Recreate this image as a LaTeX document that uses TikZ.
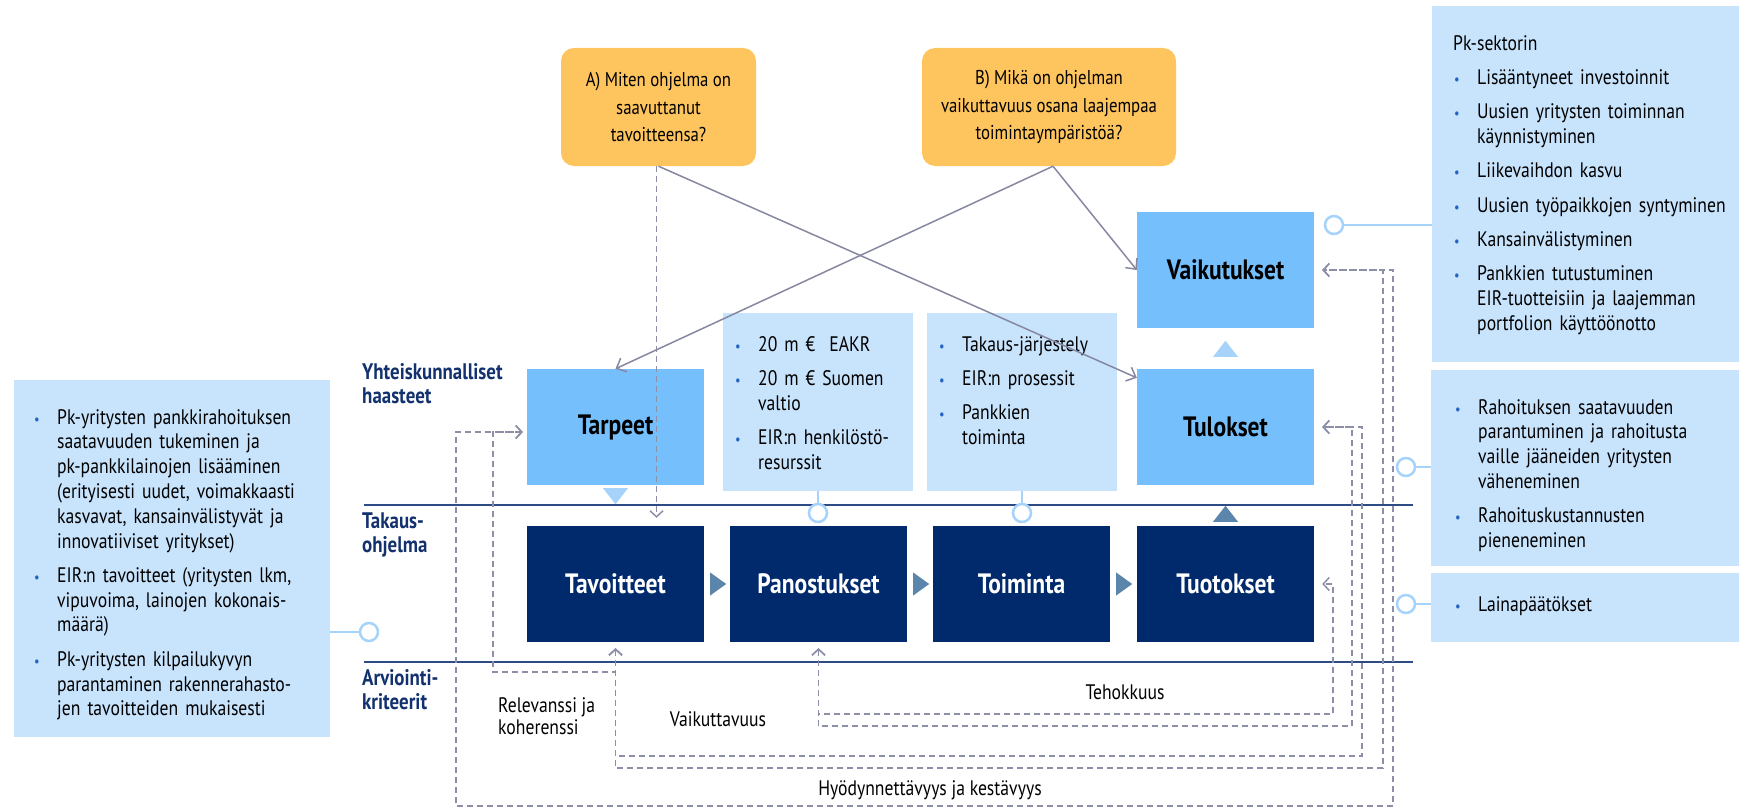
\documentclass[tikz,border=0pt]{standalone}
\usepackage{fontspec}
\setmainfont{PT Sans}[FakeStretch=0.84]
\usepackage{graphicx}
\usetikzlibrary{arrows.meta}

\definecolor{infoblue}{HTML}{C8E3FC}
\definecolor{midblue}{HTML}{74BFFC}
\definecolor{darkblue}{HTML}{002A6B}
\definecolor{qorange}{HTML}{FEC55F}
\definecolor{navytext}{HTML}{12316E}
\definecolor{rulenavy}{HTML}{2D4B84}
\definecolor{dashgray}{HTML}{8D8FA9}
\definecolor{ringblue}{HTML}{A6D3FC}
\definecolor{dotblue}{HTML}{2463C4}
\definecolor{trilight}{HTML}{A7D3FA}
\definecolor{tridark}{HTML}{5B85AA}

\newlength{\itmind}\setlength{\itmind}{24pt}
\newcommand{\itm}[1]{{\let\\\newline\noindent\hangindent=\itmind\hangafter=1\makebox[\itmind][l]{\hspace{1pt}\textcolor{dotblue}{\scalebox{0.7}{\textbullet}}}#1\par}}

\begin{document}
\begin{tikzpicture}[x=1pt,y=-1pt,
    >={Straight Barb[length=6pt,width=13pt]},
    box/.style={minimum width=177pt,minimum height=116pt,inner sep=0pt,font=\fontsize{28}{32}\selectfont\bfseries},
    needbox/.style={box,fill=midblue},
    prgbox/.style={box,fill=darkblue,text=white},
    info/.style={fill=infoblue,inner sep=0pt},
    ask/.style={fill=qorange,rounded corners=13pt,inner sep=0pt,align=center,font=\fontsize{20}{27.5}\selectfont},
    txt/.style={anchor=north west,inner sep=0pt,text width=#1,align=left,font=\fontsize{21}{24.8}\selectfont,execute at begin node={\setlength{\parskip}{9.5pt}}},
    rowlabel/.style={anchor=north west,inner sep=0pt,align=left,text=navytext,font=\fontsize{22.5}{24}\selectfont\bfseries},
    crit/.style={inner sep=0pt,align=left,font=\fontsize{21}{22}\selectfont},
    rule/.style={rulenavy,line width=1.5pt},
    dl/.style={dashgray,line width=1.5pt,dash pattern=on 6pt off 4pt},
    askline/.style={dashgray!95!black,line width=1.5pt,-{Straight Barb[length=8pt,width=15pt]}},
    ring/.style={circle,draw=ringblue,line width=2.5pt,fill=white,minimum size=18pt,inner sep=0pt},
    link/.style={ringblue,line width=2.5pt}]
  \useasboundingbox (0,0) rectangle (1739,808);

  % questions
  \node[ask,minimum width=195pt,minimum height=118pt] (qa) at (658.5,107) {A) Miten ohjelma on\\saavuttanut\\tavoitteensa?};
  \node[ask,minimum width=254pt,minimum height=118pt] (qb) at (1049,107) {B) Mikä on ohjelman\\vaikuttavuus osana laajempaa\\toimintaympäristöä?};

  % info boxes
  \node[info,minimum width=316pt,minimum height=357pt] (leftinfo) at (172,558.5) {};
  \node[info,minimum width=190pt,minimum height=178pt] (paninfo) at (818,402) {};
  \node[info,minimum width=190pt,minimum height=178pt] (toiminfo) at (1022,402) {};
  \node[info,minimum width=307pt,minimum height=356pt] (vaikinfo) at (1585.5,184) {};
  \node[info,minimum width=308pt,minimum height=196pt] (tulinfo) at (1585,468) {};
  \node[info,minimum width=308pt,minimum height=69pt] (tuotinfo) at (1585,607.5) {};

  \node[txt=320pt] (lefttxt) at (33,409) {%
    \itm{Pk-yritysten pankkirahoituksen\\saatavuuden tukeminen ja\\pk-pankkilainojen lisääminen\\(erityisesti uudet, voimakkaasti\\kasvavat, kansainvälistyvät ja\\innovatiiviset yritykset)}
    \itm{EIR:n tavoitteet (yritysten lkm,\\vipuvoima, lainojen kokonais-\\määrä)}
    \itm{Pk-yritysten kilpailukyvyn\\parantaminen rakennerahasto-\\jen tavoitteiden mukaisesti}};
  \node[txt=200pt] (pantxt) at (734,336) {%
    \itm{20 m €\ \ EAKR}
    \itm{20 m € Suomen\\valtio}
    \itm{EIR:n henkilöstö-\\resurssit}};
  \node[txt=200pt] (toimtxt) at (938,336) {%
    \itm{Takaus-järjestely}
    \itm{EIR:n prosessit}
    \itm{Pankkien\\toiminta}};
  \node[txt=320pt] (vaiktxt) at (1453,35) {%
    Pk-sektorin\par
    \itm{Lisääntyneet investoinnit}
    \itm{Uusien yritysten toiminnan\\käynnistyminen}
    \itm{Liikevaihdon kasvu}
    \itm{Uusien työpaikkojen syntyminen}
    \itm{Kansainvälistyminen}
    \itm{Pankkien tutustuminen\\EIR-tuotteisiin ja laajemman\\portfolion käyttöönotto}};
  \node[txt=320pt] (tultxt) at (1454,399) {%
    \itm{Rahoituksen saatavuuden\\parantuminen ja rahoitusta\\vaille jääneiden yritysten\\väheneminen}
    \itm{Rahoituskustannusten\\pieneneminen}};
  \node[txt=320pt] (tuottxt) at (1454,596) {%
    \itm{Lainapäätökset}};

  % row labels and rules
  \node[rowlabel] (yhteis) at (362,363) {Yhteiskunnalliset\\haasteet};
  \node[rowlabel] (takaus) at (362,513) {Takaus-\\ohjelma};
  \node[rowlabel] (arvio) at (362,669) {Arviointi-\\kriteerit};
  \draw[rule] (364,505) -- (1413,505);
  \draw[rule] (364,662) -- (1413,662);

  % main boxes
  \node[needbox] (tarpeet) at (615.5,427) {Tarpeet};
  \node[needbox] (tulokset) at (1225.5,427) {Tulokset};
  \node[needbox] (vaikutukset) at (1225.5,270) {Vaikutukset};
  \node[prgbox] (tavoitteet) at (615.5,584) {Tavoitteet};
  \node[prgbox] (panostukset) at (818.5,584) {Panostukset};
  \node[prgbox] (toiminta) at (1021.5,584) {Toiminta};
  \node[prgbox] (tuotokset) at (1225.5,584) {Tuotokset};

  % triangles
  \fill[trilight] ([yshift=-3pt]tarpeet.south) ++(-12.5,0) -- ++(25,0) -- ++(-12.5,16) -- cycle;
  \fill[trilight] ([yshift=12pt]tulokset.north) ++(-12.5,0) -- ++(25,0) -- ++(-12.5,-16) -- cycle;
  \fill[tridark] ([yshift=4pt]tuotokset.north) ++(-12.5,0) -- ++(25,0) -- ++(-12.5,-16) -- cycle;
  \foreach \a in {tavoitteet,panostukset,toiminta}
    \fill[tridark] ([xshift=6pt]\a.east) ++(0,-11.5) -- ++(0,23) -- ++(16,-11.5) -- cycle;

  % rings
  \node[ring] (lring) at (369,632) {};
  \node[ring] (panring) at (818,513) {};
  \node[ring] (toimring) at (1022,513) {};
  \node[ring] (vaikring) at (1334,225) {};
  \node[ring] (tulring) at (1406,467) {};
  \node[ring] (tuotring) at (1406,604) {};
  \draw[link] (leftinfo.east |- lring) -- (lring);
  \draw[link] (paninfo.south) -- (panring);
  \draw[link] (toiminfo.south) -- (toimring);
  \draw[link] (vaikinfo.west |- vaikring) -- (vaikring);
  \draw[link] (tulinfo.west |- tulring) -- (tulring);
  \draw[link] (tuotinfo.west |- tuotring) -- (tuotring);

  % criteria loops
  \draw[dl,->,shorten >=8pt] ([xshift=-2pt]qa.south) -- ([xshift=-2pt]qa.south |- tavoitteet.north);
  \draw[dl,<->] ([yshift=-6pt]tavoitteet.south) |- (493,672) |- ([shift={(-4pt,-5pt)}]tarpeet.west);
  \draw[dl,<->] ([shift={(-4pt,-5pt)}]tarpeet.west) -| (456,806) -| (1393,270) -- ([xshift=8pt]vaikutukset.east);
  \draw[dl,<->] ([yshift=-6pt]tavoitteet.south) |- (1362,756) |- ([xshift=8pt]tulokset.east);
  \draw[dl,<->] ([yshift=-6pt]tavoitteet.south) |- (1383,768) |- ([xshift=8pt]vaikutukset.east);
  \draw[dl,<->] ([yshift=-6pt]panostukset.south) |- (1333,714) |- ([xshift=8pt]tuotokset.east);
  \draw[dl,<->] ([yshift=-6pt]panostukset.south) |- (1352,726) |- ([xshift=8pt]tulokset.east);

  \node[crit,anchor=north west] (relev) at (498,697) {Relevanssi ja\\koherenssi};
  \node[crit] (vaikutt) at (718,719) {Vaikuttavuus};
  \node[crit] (tehok) at (1125,692) {Tehokkuus};
  \node[crit] (hyody) at (930,790) {Hyödynnettävyys ja kestävyys};

  % question links
  \draw[askline] (qa.south) -- ([yshift=-9pt]tulokset.north west);
  \draw[askline] ([xshift=4pt]qb.south) -- (tarpeet.north);
  \draw[askline] ([xshift=4pt]qb.south) -- (vaikutukset.west);
\end{tikzpicture}
\end{document}
